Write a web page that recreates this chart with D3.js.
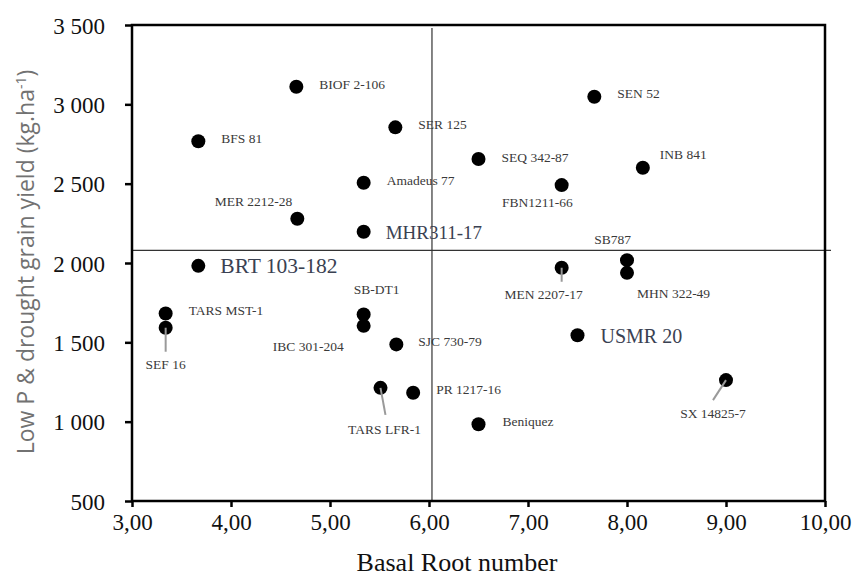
<!DOCTYPE html>
<html>
<head>
<meta charset="utf-8">
<script src="https://cdn.jsdelivr.net/npm/d3@7"></script>
<style>
	body { margin: 0; background: #fff; }
	svg { display: block; }
	.serif { font-family: "Liberation Serif", "Times New Roman", serif; }
</style>
</head>
<body>
<svg id="chart" width="855" height="578"></svg>
<script>
// Genotypes, basal root number and yield under low P & drought
var genotypes = ["BIOF 2-106", "BFS 81", "SER 125", "Amadeus 77", "MER 2212-28", "MHR311-17",
	"BRT 103-182", "SEN 52", "SEQ 342-87", "INB 841", "FBN1211-66", "SB787", "MHN 322-49",
	"MEN 2207-17", "USMR 20", "TARS MST-1", "SEF 16", "SB-DT1", "IBC 301-204", "SJC 730-79",
	"TARS LFR-1", "PR 1217-16", "Beniquez", "SX 14825-7"];
var basalRoots = [4.66, 3.67, 5.66, 5.34, 4.67, 5.34,
	3.67, 7.67, 6.50, 8.16, 7.34, 8.00, 8.00,
	7.34, 7.50, 3.34, 3.34, 5.34, 5.34, 5.67,
	5.51, 5.84, 6.50, 9.00];
var grainYield = [3111, 2767, 2855, 2506, 2279, 2197,
	1982, 3048, 2655, 2600, 2491, 2018, 1938,
	1970, 1545, 1682, 1592, 1676, 1604, 1487,
	1213, 1182, 984, 1262];

var xTicks = [3, 4, 5, 6, 7, 8, 9, 10];
var yTicks = [500, 1000, 1500, 2000, 2500, 3000, 3500];
var meanRoots = 6.03;
var meanYield = 2080;

// highlighted genotypes get a bigger label
var highlightSize = { "MHR311-17": 19, "BRT 103-182": 21.5, "USMR 20": 20 };

// label placement relative to the dot: [dx, dy, anchor, leaderDx, leaderDy]
var labelPlace = {
	"BIOF 2-106": [23, 2, "start"],
	"BFS 81": [23, 2, "start"],
	"SER 125": [23, 2, "start"],
	"Amadeus 77": [23, 2, "start"],
	"MER 2212-28": [-5, -13, "end"],
	"MHR311-17": [22, 7, "start"],
	"BRT 103-182": [22, 7, "start"],
	"SEN 52": [23, 1, "start"],
	"SEQ 342-87": [23, 3, "start"],
	"INB 841": [17, -9, "start"],
	"FBN1211-66": [11, 22, "end"],
	"SB787": [4, -16, "end"],
	"MHN 322-49": [10, 25, "start"],
	"MEN 2207-17": [-18, 31, "middle", 0, 14],
	"USMR 20": [23, 8, "start"],
	"TARS MST-1": [23, 2, "start"],
	"SEF 16": [0, 41, "middle", 0, 24],
	"SB-DT1": [-10, -20, "start"],
	"IBC 301-204": [-20, 25, "end"],
	"SJC 730-79": [22, 2, "start"],
	"TARS LFR-1": [4, 46, "middle", 5, 27],
	"PR 1217-16": [23, 1, "start"],
	"Beniquez": [24, 2, "start"],
	"SX 14825-7": [-13, 38, "middle", -13, 20]
};

var svg = d3.select("#chart");
var plotLeft = 132, plotRight = 825, plotTop = 25, plotBottom = 501;

var x = d3.scaleLinear().domain([3, 10]).range([plotLeft, plotRight]);
var y = d3.scaleLinear().domain([500, 3500]).range([plotBottom, plotTop]);

var points = genotypes.map(function(name, i)
{
	return { name: name, x: basalRoots[i], y: grainYield[i] };
});

// Mean lines
svg.append("line")
	.attr("x1", x(meanRoots)).attr("x2", x(meanRoots))
	.attr("y1", plotTop + 3).attr("y2", plotBottom)
	.attr("stroke", "#333").attr("stroke-width", 1.2);
svg.append("line")
	.attr("x1", plotLeft).attr("x2", plotRight + 6)
	.attr("y1", y(meanYield)).attr("y2", y(meanYield))
	.attr("stroke", "#333").attr("stroke-width", 1.2);

// Frame
svg.append("rect")
	.attr("x", plotLeft).attr("y", plotTop)
	.attr("width", plotRight - plotLeft).attr("height", plotBottom - plotTop)
	.attr("fill", "none").attr("stroke", "#000").attr("stroke-width", 2.5);

// Axes
var formatX = function(d) { return d3.format(".2f")(d).replace(".", ","); };
var formatY = function(d) { return d3.format(",")(d).replace(",", " "); };

var xAxis = svg.append("g")
	.attr("transform", "translate(0," + plotBottom + ")")
	.call(d3.axisBottom(x).tickValues(xTicks).tickFormat(formatX).tickSizeOuter(0).tickSize(6).tickPadding(7));
var yAxis = svg.append("g")
	.attr("transform", "translate(" + plotLeft + ",0)")
	.call(d3.axisLeft(y).tickValues(yTicks).tickFormat(formatY).tickSizeOuter(0).tickSize(7).tickPadding(20));

[xAxis, yAxis].forEach(function(g)
{
	g.select(".domain").remove();
	g.selectAll(".tick line").attr("stroke", "#000").attr("stroke-width", 2.5);
	g.selectAll(".tick text")
		.attr("class", "serif")
		.attr("fill", "#111")
		.style("font-size", "23px")
		.style("font-family", "'Liberation Serif', serif");
});
yAxis.selectAll(".tick text").attr("dy", "0.35em");

// Dots
svg.append("g").selectAll("circle")
	.data(points)
	.enter().append("circle")
	.attr("cx", function(d) { return x(d.x); })
	.attr("cy", function(d) { return y(d.y); })
	.attr("r", 7)
	.attr("fill", "#000");

// Leader lines drawn above the dots (light stroke visible on dot)
points.forEach(function(p)
{
	var pl = labelPlace[p.name];
	if (pl && pl.length > 3)
	{
		svg.append("line")
			.attr("x1", x(p.x)).attr("y1", y(p.y))
			.attr("x2", x(p.x) + pl[3]).attr("y2", y(p.y) + pl[4])
			.attr("stroke", "#9a9a9a").attr("stroke-width", 2);
	}
});

// Labels
svg.append("g").selectAll("text")
	.data(points)
	.enter().append("text")
	.attr("class", "serif")
	.attr("x", function(d) { return x(d.x) + labelPlace[d.name][0]; })
	.attr("y", function(d) { return y(d.y) + labelPlace[d.name][1]; })
	.attr("text-anchor", function(d) { return labelPlace[d.name][2]; })
	.attr("fill", function(d) { return highlightSize[d.name] ? "#3a4152" : "#3a3a3a"; })
	.style("font-size", function(d) { return (highlightSize[d.name] || 13.5) + "px"; })
	.text(function(d) { return d.name; });

// Axis titles
svg.append("text")
	.attr("class", "serif")
	.attr("x", 457).attr("y", 571)
	.attr("text-anchor", "middle")
	.attr("fill", "#111")
	.style("font-size", "26px")
	.text("Basal Root number");

var yTitle = svg.append("text")
	.attr("transform", "translate(34," + 262 + ") rotate(-90)")
	.attr("text-anchor", "middle")
	.attr("fill", "#727272")
	.style("font-family", "'Open Sans', 'Noto Sans', sans-serif")
	.style("font-size", "23px");
yTitle.append("tspan").text("Low P & drought grain yield (kg.ha");
yTitle.append("tspan").attr("dy", -8).style("font-size", "14px").text("-1");
yTitle.append("tspan").attr("dy", 8).text(")");
</script>
</body>
</html>
